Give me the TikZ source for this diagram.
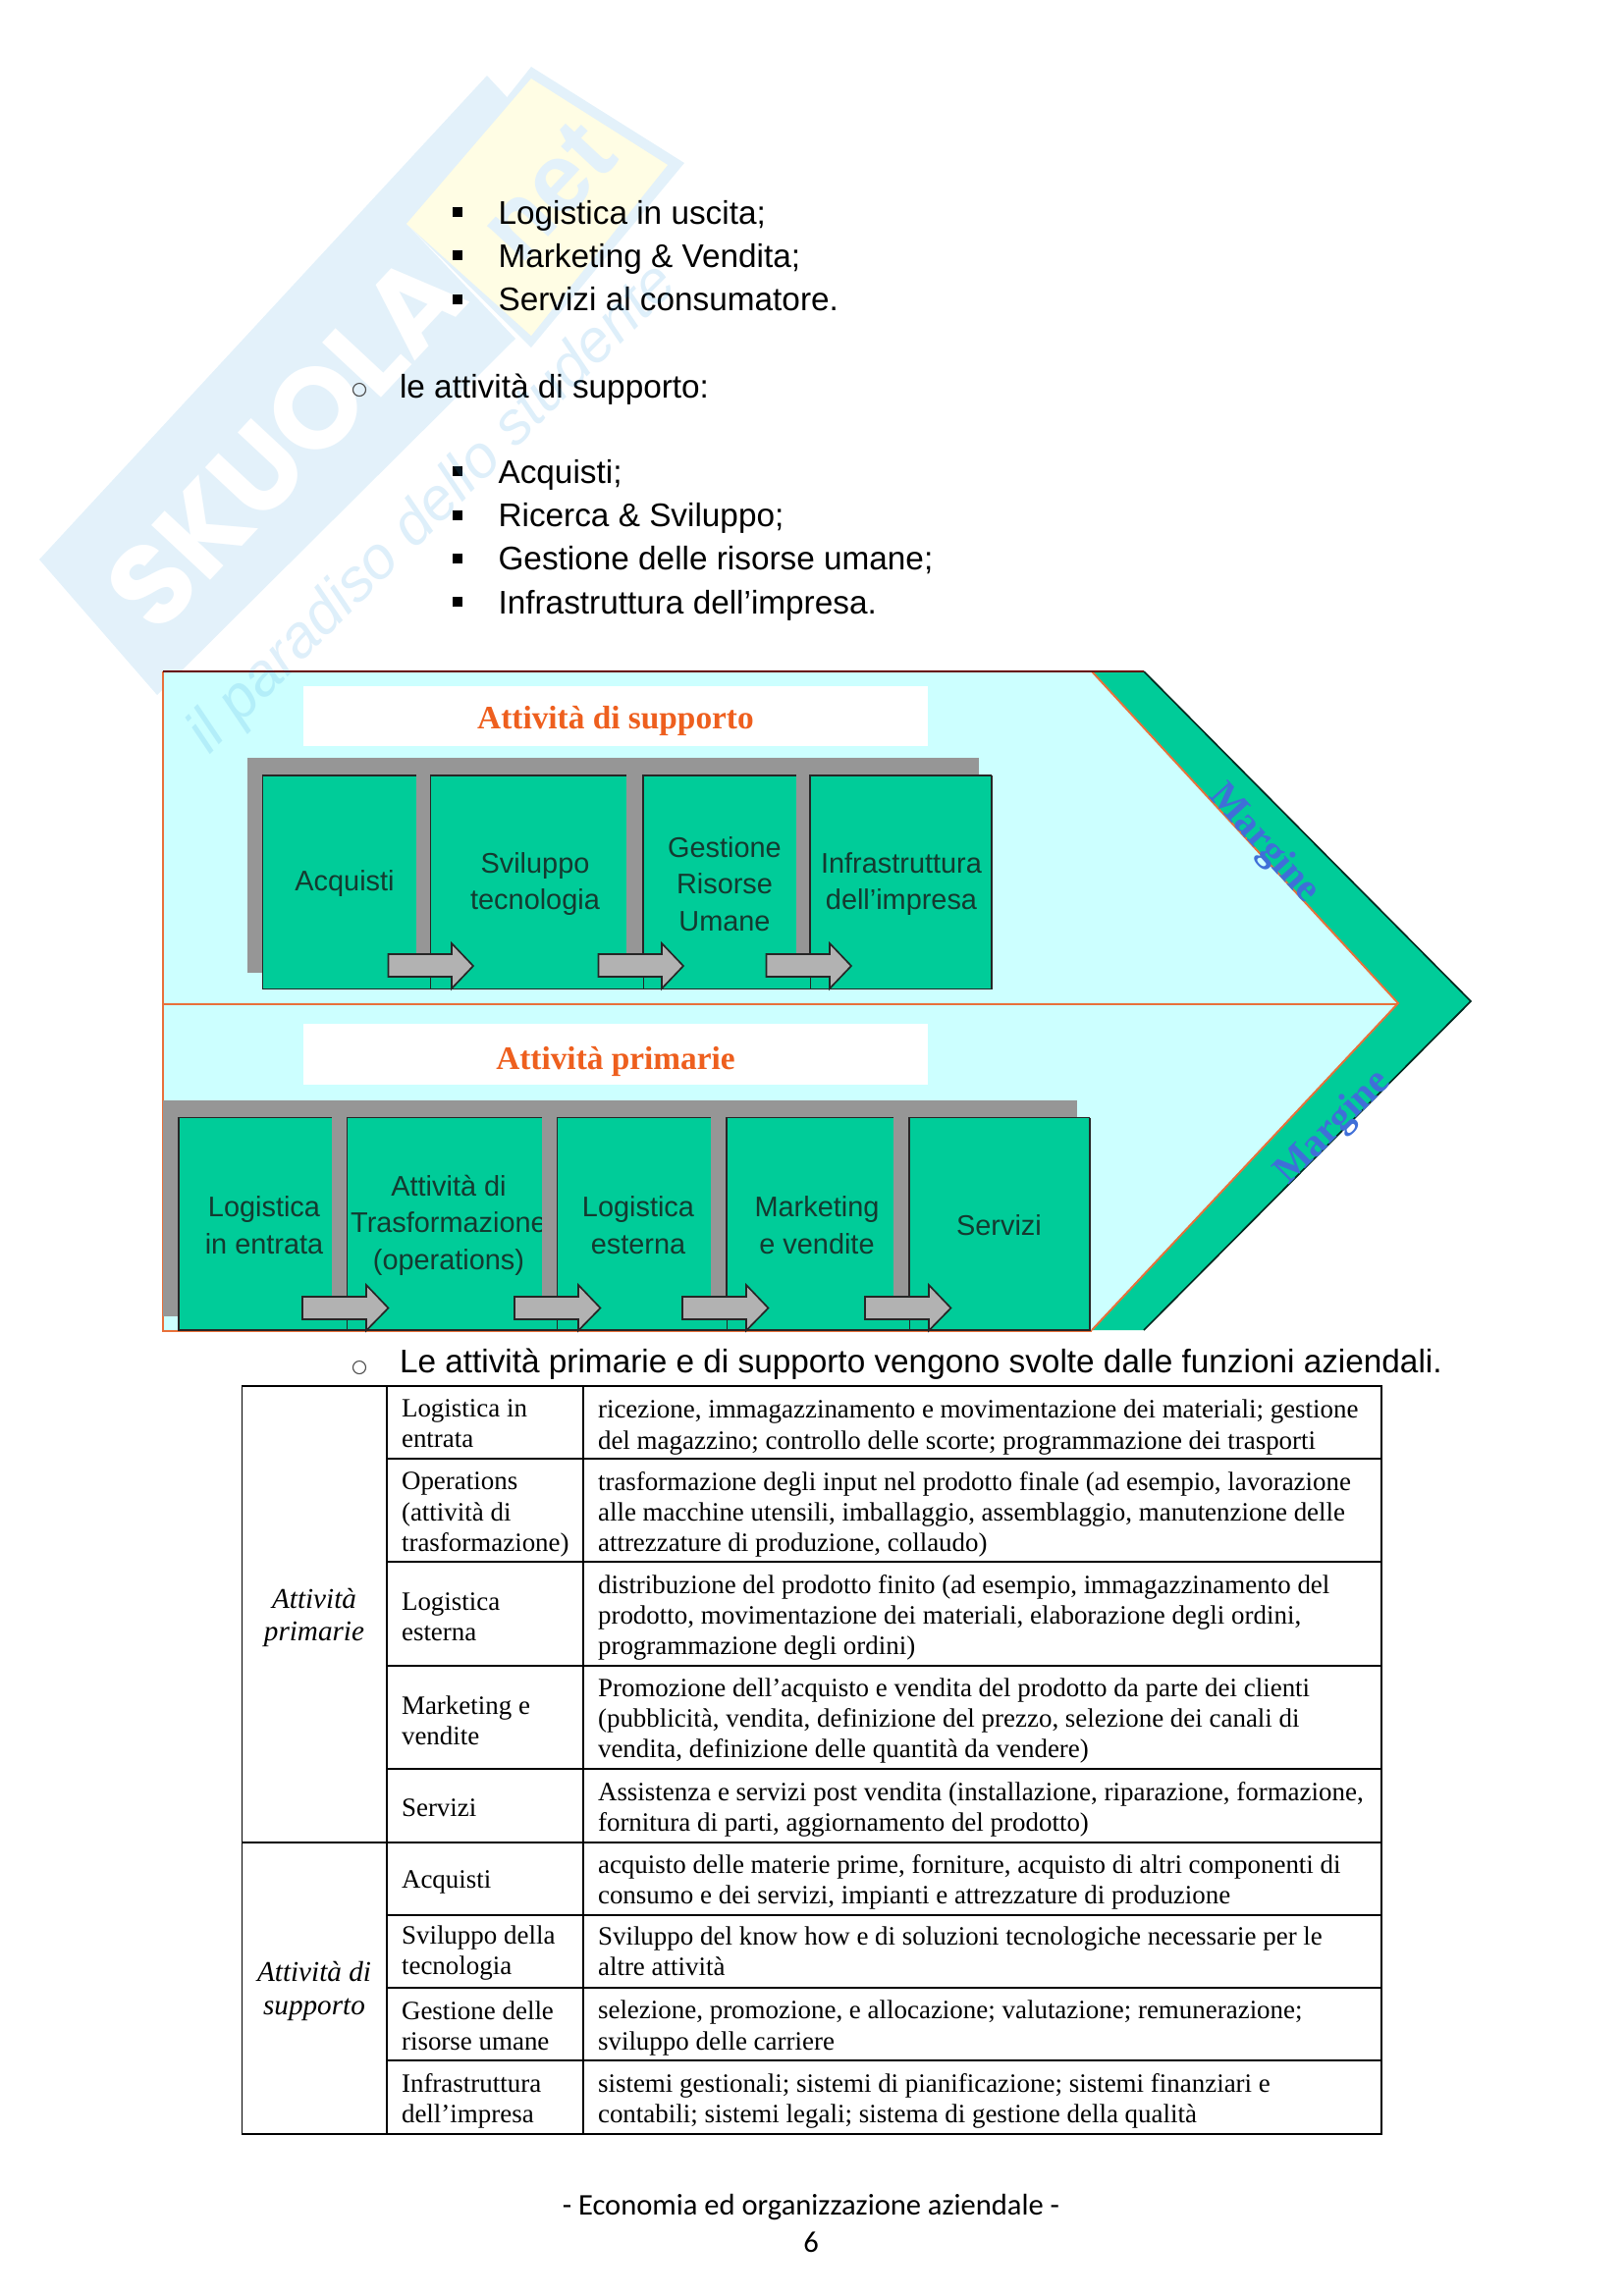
\documentclass[tikz,border=0pt]{standalone}
\usepackage{xcolor}
\usepackage{fontspec}
\setmainfont{Liberation Sans}
\newfontfamily\timesfont{Liberation Serif}
\newfontfamily\footfont{Carlito}
\newfontfamily\logofont{Poppins}
\usetikzlibrary{calc}

\definecolor{bandblue}{HTML}{E3F1FA}
\definecolor{logoyellow}{HTML}{FFFDE4}
\definecolor{tagblue}{HTML}{3399DD}
\definecolor{panelcyan}{HTML}{CCFFFF}
\definecolor{boxgreen}{HTML}{00CC99}
\definecolor{backgray}{HTML}{969696}
\definecolor{arrowgray}{HTML}{B2B2B2}
\definecolor{edgeorange}{HTML}{E8703A}
\definecolor{titleorange}{HTML}{EE5F1E}
\definecolor{marginblue}{HTML}{3F6FD8}
\definecolor{boxtext}{HTML}{143A30}

\tikzset{
  bodytext/.style={anchor=base west,inner sep=0pt,font=\fontsize{12}{14}\selectfont},
  boxlabel/.style={align=center,inner sep=0pt,text=boxtext,font=\fontsize{10.4}{13.5}\selectfont},
  boxedge/.style={draw=black!85,line width=0.6pt},
  flowarrow/.style={fill=arrowgray,draw=black!85,line width=0.6pt,line join=miter},
  tabletext/.style={anchor=west,align=left,inner sep=0pt,font=\timesfont\fontsize{9.7}{11.2}\selectfont},
  tablehead/.style={align=center,inner sep=0pt,font=\timesfont\itshape\fontsize{10.5}{12.2}\selectfont},
  headtitle/.style={inner sep=0pt,text=titleorange,font=\timesfont\bfseries\fontsize{12}{14}\selectfont},
  margintext/.style={inner sep=0pt,text=marginblue,font=\timesfont\bfseries\fontsize{14.5}{17}\selectfont},
  tablerule/.style={line width=0.5pt},
}

\begin{document}
\begin{tikzpicture}[x=0.36pt,y=-0.36pt]
\useasboundingbox (0,0) rectangle (1653,2339);

% Watermark
\fill[bandblue] (496,77) -- (40,570) -- (160,708) -- (525,345) -- (414,228) -- (522,105) -- cycle;
\fill[bandblue] (541,68) -- (697,166) -- (541,354) -- (414,228) -- cycle;
\fill[logoyellow] (541,80) -- (680,168) -- (541,342) -- (414,228) -- cycle;
\node[rotate=47,inner sep=0pt,text=white,font=\logofont\bfseries\fontsize{42}{50}\selectfont] (wmname) at (290,450) {SKUOLA};
\node[rotate=47,inner sep=0pt,text=bandblue,font=\bfseries\fontsize{36}{38}\selectfont] (wmnet) at (558,195) {net};

% Bullet lists
\foreach \y/\txt in {228/{Logistica in uscita;},272/{Marketing \& Vendita;},316.5/{Servizi al consumatore.},492/{Acquisti;},536.5/{Ricerca \& Sviluppo;},580.5/{Gestione delle risorse umane;},625/{Infrastruttura dell’impresa.}} {
  \fill (461,\y-17) rectangle (471,\y-7);
  \node[bodytext] (item\y) at (507,\y) {\txt};
}
\draw[black!70,line width=0.4pt] (366,397) circle (6.5);
\node[bodytext] (subhead) at (406.5,405) {le attività di supporto:};

% Panels and margin
\fill[boxgreen] (1112,684) -- (1165,684) -- (1498,1020) -- (1165,1355) -- (1112,1355) -- (1424,1022) -- cycle;
\draw[black!80!boxgreen,line width=0.6pt] (1165,684) -- (1498,1020) -- (1165,1355);
\fill[panelcyan] (166,684) -- (1112,684) -- (1424,1022) -- (1112,1355) -- (166,1355) -- cycle;
\draw[edgeorange,line width=0.7pt] (1112,684) -- (1424,1022) -- (1112,1355);
\draw[edgeorange,line width=0.7pt] (166,1023) -- (1424,1023);
\draw[edgeorange,line width=0.7pt] (166,684) -- (166,1356) -- (1112,1356);
\draw[black!60!red,line width=0.8pt] (166,684) -- (1165,684);

% Title strips
\fill[white] (309,699) rectangle (945,760);
\fill[white] (309,1043) rectangle (945,1105);
\node[headtitle] (supporttitle) at (627,734) {Attività di supporto};
\node[headtitle] (primarytitle) at (627,1081) {Attività primarie};

% Support row
\fill[backgray] (252,772) rectangle (997,991);
\foreach \name/\xa/\xb/\xc/\txt in {acq/267.5/424/351/{Acquisti},svi/438.5/638/545/{Sviluppo\\tecnologia},ges/655/810.5/738/{Gestione\\Risorse\\Umane},inf/825/1010/918/{Infrastruttura\\dell’impresa}} {
  \fill[boxgreen] (\xa,790) rectangle (\xb,1007.5);
  \draw[boxedge] (\xb,790) -- (\xa,790) -- (\xa,1007.5) -- (\xb,1007.5);
  \node[boxlabel] (\name) at (\xc,900.5) {\txt};
}
\foreach \xa/\xb in {423/438,637/654.5,809.5/824.5} {
  \fill[boxgreen] (\xa,985) rectangle (\xb,1007);
}
\draw[boxedge] (267.5,1007.5) -- (1010,1007.5) -- (1010,790);
\foreach \x in {395.5,609.5,780.5} {
  \draw[flowarrow] (\x,972) -- ++(64.5,0) -- ++(0,-11) -- ++(22,23) -- ++(-22,23) -- ++(0,-12) -- ++(-64.5,0) -- cycle;
}

% Primary row
\fill[backgray] (166,1121) rectangle (1097,1341);
\foreach \name/\xa/\xb/\xc/\txt in {ent/182/338/269/{Logistica\\in entrata},tra/353.5/552/457/{Attività di\\Trasformazione\\(operations)},est/567.5/724/650/{Logistica\\esterna},mkt/740/910/832/{Marketing\\e vendite},ser/926/1110/1017.5/{Servizi}} {
  \fill[boxgreen] (\xa,1138.5) rectangle (\xb,1355);
  \draw[boxedge] (\xb,1138.5) -- (\xa,1138.5) -- (\xa,1355) -- (\xb,1355);
  \node[boxlabel] (\name) at (\xc,1248) {\txt};
}
% the strip cuts the last letter of the long word
\fill[backgray] (552,1139.5) rectangle (567,1300);
\foreach \xa/\xb in {337/353,551/567,723/739.5,909/925.5} {
  \fill[boxgreen] (\xa,1333) rectangle (\xb,1354.5);
}
\draw[boxedge] (182,1355) -- (1110,1355) -- (1110,1138.5);
\foreach \x in {308,524,695,881} {
  \draw[flowarrow] (\x,1321) -- ++(65,0) -- ++(0,-12) -- ++(22.5,23.5) -- ++(-22.5,23) -- ++(0,-11.5) -- ++(-65,0) -- cycle;
}

% Margin labels
\node[margintext,rotate=-48] (margintop) at (1287,860) {Margine};
\node[margintext,rotate=45] (marginbot) at (1358,1149) {Margine};

% Table caption
\draw[black!70,line width=0.4pt] (366,1393) circle (6.5);
\node[bodytext] (caption) at (406.5,1398) {Le attività primarie e di supporto vengono svolte dalle funzioni aziendali.};

% Table grid
\draw[tablerule] (246.5,1412) rectangle (1407,2174);
\draw[tablerule] (394,1412) -- (394,2174);
\draw[tablerule] (594,1412) -- (594,2174);
\foreach \y in {1486,1591,1697,1802,2025,2099} {
  \draw[tablerule] (394,\y) -- (1407,\y);
}
\draw[line width=0.9pt] (246.5,1877) -- (1407,1877);
\draw[line width=0.9pt] (394,1951) -- (1407,1951);

% Table text
\node[tablehead] (headprim) at (320,1648) {Attività\\primarie};
\node[tablehead] (headsupp) at (320,2028.5) {Attività di\\supporto};
\foreach \y/\ly/\name/\lab/\txt in {
  1454/1450.5/r1/{Logistica in\\entrata}/{ricezione, immagazzinamento e movimentazione dei materiali; gestione\\del magazzino; controllo delle scorte; programmazione dei trasporti},
  1543/1543/r2/{Operations\\(attività di\\trasformazione)}/{trasformazione degli input nel prodotto finale (ad esempio, lavorazione\\alle macchine utensili, imballaggio, assemblaggio, manutenzione delle\\attrezzature di produzione, collaudo)},
  1648/1647/r3/{Logistica\\esterna}/{distribuzione del prodotto finito (ad esempio, immagazzinamento del\\prodotto, movimentazione dei materiali, elaborazione degli ordini,\\programmazione degli ordini)},
  1753/1752.5/r4/{Marketing e\\vendite}/{Promozione dell’acquisto e vendita del prodotto da parte dei clienti\\(pubblicità, vendita, definizione del prezzo, selezione dei canali di\\vendita, definizione delle quantità da vendere)},
  1843/1841.5/r5/{Servizi}/{Assistenza e servizi post vendita (installazione, riparazione, formazione,\\fornitura di parti, aggiornamento del prodotto)},
  1917/1917/r6/{Acquisti}/{acquisto delle materie prime, forniture, acquisto di altri componenti di\\consumo e dei servizi, impianti e attrezzature di produzione},
  1988/1989.5/r7/{Sviluppo della\\tecnologia}/{Sviluppo del know how e di soluzioni tecnologiche necessarie per le\\altre attività},
  2066/2063.5/r8/{Gestione delle\\risorse umane}/{selezione, promozione, e allocazione; valutazione; remunerazione;\\sviluppo delle carriere},
  2140/2140/r9/{Infrastruttura\\dell’impresa}/{sistemi gestionali; sistemi di pianificazione; sistemi finanziari e\\contabili; sistemi legali; sistema di gestione della qualità}} {
  \node[tabletext] (\name lab) at (408.5,\ly) {\lab};
  \node[tabletext] (\name txt) at (608.5,\y) {\txt};
}

% Footer
\node[inner sep=0pt,anchor=base,font=\footfont\fontsize{11}{14}\selectfont] (foottitle) at (826,2256) {- Economia ed organizzazione aziendale -};
\node[inner sep=0pt,anchor=base,font=\footfont\fontsize{11}{14}\selectfont] (footpage) at (826,2294) {6};

% Watermark tagline on top
\node[rotate=45,inner sep=0pt,opacity=0.16,text=tagblue,font=\itshape\fontsize{22}{24}\selectfont] (wmtag) at (441,519) {il paradiso dello studente};

\end{tikzpicture}
\end{document}
